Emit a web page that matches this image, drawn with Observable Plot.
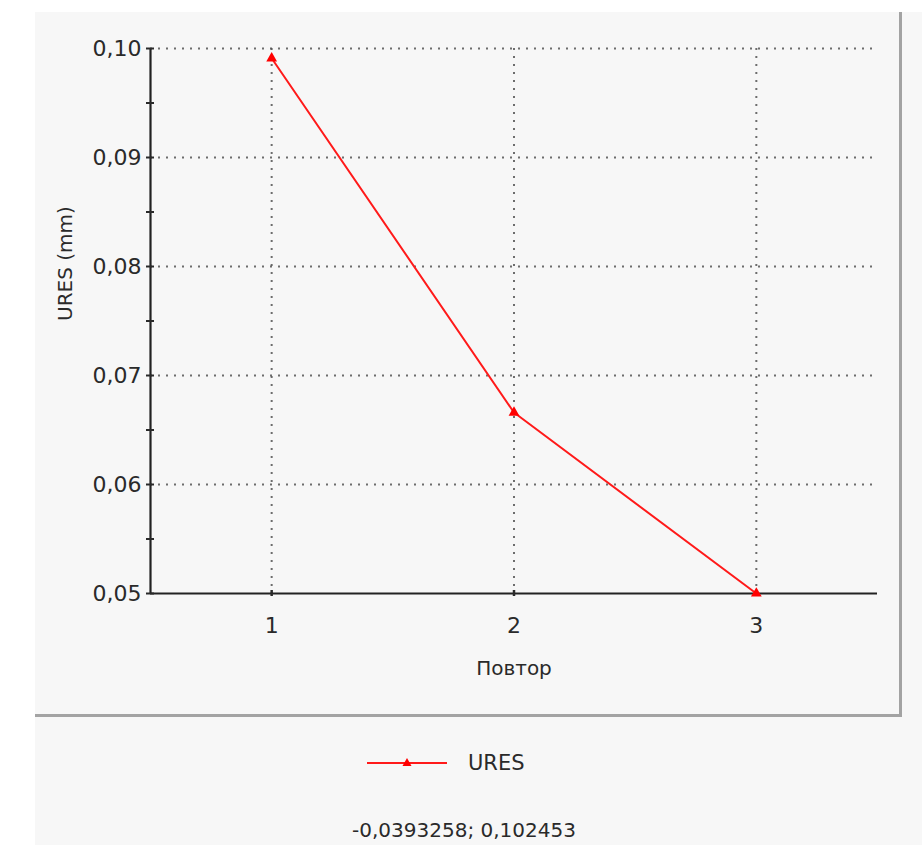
<!DOCTYPE html>
<html>
<head>
<meta charset="utf-8">
<script src="https://cdn.jsdelivr.net/npm/d3@7"></script>
<script src="https://cdn.jsdelivr.net/npm/@observablehq/plot@0.6"></script>
<style>
  html, body { margin: 0; padding: 0; background: #ffffff; }
  body { width: 922px; height: 854px; position: relative; overflow: hidden; font-family: "DejaVu Sans", sans-serif; color: #2a2a2a; }
  #panel { position: absolute; left: 35px; top: 12px; width: 887px; height: 833px; background: #f7f7f7; }
  #box { position: absolute; left: 35px; top: 12px; width: 864px; height: 702px; border-right: 3px solid #a3a3a3; border-bottom: 3px solid #a3a3a3; }
  #chart { position: absolute; left: 0; top: 0; }
  #legend { position: absolute; left: 360px; top: 748px; height: 30px; display: flex; align-items: center; font-size: 21px; }
  #legend span { margin-left: 18px; }
  #caption { position: absolute; left: 264px; width: 400px; top: 818px; text-align: center; font-size: 20px; }
</style>
</head>
<body>
<div id="panel"></div>
<div id="box"></div>
<div id="chart"></div>
<div id="legend"></div>
<div id="caption"></div>
<script>
// Data
const repeats = [1, 2, 3];
const uresValues = [0.0991, 0.0666, 0.0500];
const seriesName = "URES";
const xTicks = [1, 2, 3];
const yTicks = [0.05, 0.06, 0.07, 0.08, 0.09, 0.10];
const yMinorTicks = [0.055, 0.065, 0.075, 0.085, 0.095];
const xLabel = "Повтор";
const yLabel = "URES (mm)";
const captionText = "-0,0393258; 0,102453";

const data = repeats.map((r, i) => ({ repeat: r, ures: uresValues[i] }));
const comma = d => d.toFixed(2).replace(".", ",");
const gridStyle = { stroke: "#555", strokeOpacity: 0.85, strokeWidth: 2, strokeDasharray: "2,6" };

const chart = Plot.plot({
  width: 922,
  height: 716,
  marginLeft: 150,
  marginRight: 45,
  marginTop: 48,
  marginBottom: 123,
  style: { background: "transparent", fontFamily: "DejaVu Sans, sans-serif", color: "#2a2a2a" },
  x: { domain: [0.5, 3.5] },
  y: { domain: [0.05, 0.10] },
  marks: [
    Plot.gridY(yTicks.filter(d => d > 0.05), gridStyle),
    Plot.gridX(xTicks, gridStyle),
    Plot.ruleY([0.05], { stroke: "#222", strokeWidth: 2.2 }),
    Plot.ruleX([0.5], { stroke: "#222", strokeWidth: 2.2 }),
    Plot.axisY(yTicks, { tickFormat: comma, tickSize: 0, tickPadding: 9, fontSize: 22, label: null }),
    Plot.axisY(yTicks.concat(yMinorTicks), { tickSize: 8, dx: 4, text: null, label: null, strokeWidth: 2 }),
    Plot.axisX(xTicks, { tickFormat: d => String(d), tickSize: 0, tickPadding: 24, fontSize: 22, label: null }),
    Plot.axisX(xTicks, { tickSize: 6, dy: -3, text: null, label: null, strokeWidth: 2.5 }),
    Plot.line(data, { x: "repeat", y: "ures", stroke: "#ff1a1a", strokeWidth: 2 }),
    Plot.dot(data, { x: "repeat", y: "ures", symbol: "triangle", fill: "#ff0000", r: 4 }),
    Plot.text([yLabel], { frameAnchor: "left", dx: -85, rotate: -90, fontSize: 20 }),
    Plot.text([xLabel], { frameAnchor: "bottom", dy: 81, fontSize: 20 })
  ]
});
document.getElementById("chart").appendChild(chart);

// Legend
const legend = document.getElementById("legend");
legend.innerHTML =
  '<svg width="90" height="30"><line x1="7" y1="15" x2="87" y2="15" stroke="#ff1a1a" stroke-width="2"/>' +
  '<path d="M47,10 L51.5,18 L42.5,18 Z" fill="#ff0000"/></svg>';
const lbl = document.createElement("span");
lbl.textContent = seriesName;
legend.appendChild(lbl);
document.getElementById("caption").textContent = captionText;
</script>
</body>
</html>
